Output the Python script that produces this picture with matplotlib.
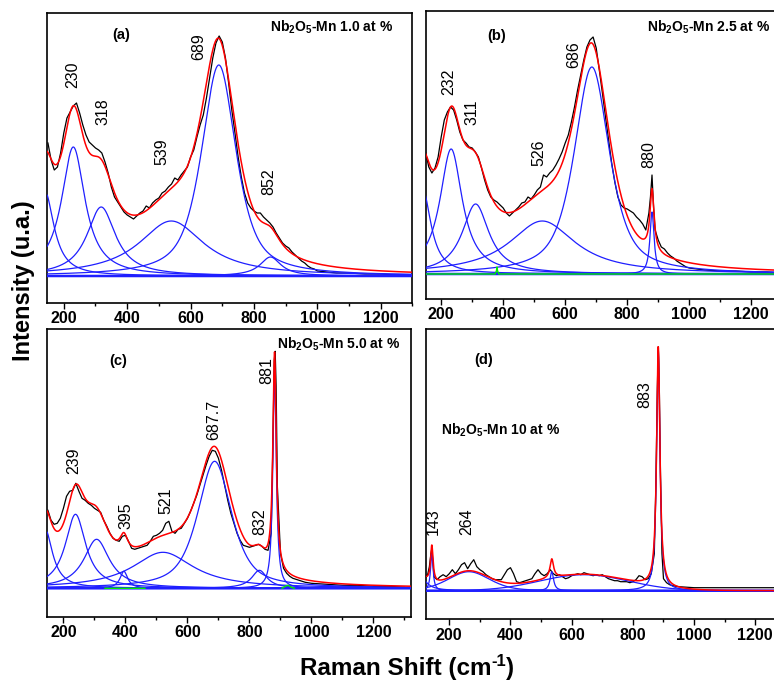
import numpy as np
import matplotlib
matplotlib.use("Agg")
import matplotlib.pyplot as plt
from matplotlib.ticker import MultipleLocator, NullLocator

plt.rcParams["mathtext.fontset"] = "custom"
plt.rcParams["mathtext.rm"] = "Liberation Sans:bold"
plt.rcParams["mathtext.it"] = "Liberation Sans:bold"
plt.rcParams["mathtext.bf"] = "Liberation Sans:bold"

# ---------------- (a) Nb2O5-Mn 1.0 at % ----------------
a_shift = [150, 160, 170, 180, 190, 200, 210, 220, 230, 240, 250, 260, 270, 280, 290,
           300, 310, 320, 330, 340, 350, 360, 370, 380, 390, 400, 410, 420, 430, 440,
           450, 460, 470, 480, 490, 500, 510, 520, 530, 540, 550, 560, 570, 580, 590,
           600, 610, 620, 630, 640, 650, 660, 670, 680, 690, 700, 710, 720, 730, 740,
           750, 760, 770, 780, 790, 800, 810, 820, 830, 840, 850, 860, 870, 880, 890,
           900, 910, 920, 930, 940, 950, 960, 970, 980, 990, 1000, 1030, 1060, 1100,
           1150, 1200, 1250, 1300]
a_counts = [133, 116, 106, 109, 123, 143, 158, 164, 170, 173, 163, 151, 141, 134, 131,
            128, 126, 123, 114, 103, 89, 79, 74, 69, 64, 61, 59, 57, 60, 63,
            65, 70, 68, 73, 76, 78, 83, 85, 89, 92, 98, 96, 101, 105, 109,
            119, 126, 139, 151, 161, 178, 198, 218, 233, 240, 234, 218, 193, 166, 143,
            119, 99, 83, 73, 68, 65, 63, 63, 59, 56, 53, 49, 43, 38, 33,
            30, 28, 24, 21, 18, 15, 13, 10, 8, 7, 5, 4, 3, 3,
            2, 2, 1, 1]
a_centers = [140, 230, 318, 539, 689, 852]
a_heights = [85, 129, 69, 55, 211, 19]
a_fwhm = [70, 90, 110, 250, 130, 80]
a_lorentz = [1.0, 1.0, 1.0, 1.0, 0.7, 1.0]
a_peak_labels = ["230", "318", "539", "689", "852"]
a_title = r"Nb$_2$O$_5$-Mn 1.0 at %"

# ---------------- (b) Nb2O5-Mn 2.5 at % ----------------
b_shift = [150, 160, 170, 180, 190, 200, 210, 220, 230, 240, 250, 260, 270, 280, 290,
           300, 310, 320, 330, 340, 350, 360, 370, 380, 390, 400, 410, 420, 430, 440,
           450, 460, 470, 480, 490, 500, 510, 520, 530, 540, 550, 560, 570, 580, 590,
           600, 610, 620, 630, 640, 650, 660, 670, 680, 690, 700, 710, 720, 730, 740,
           750, 760, 770, 780, 790, 800, 810, 820, 830, 840, 850, 860, 870, 875, 880,
           885, 890, 900, 910, 920, 930, 940, 950, 960, 970, 980, 990, 1000, 1050,
           1100, 1150, 1200, 1250, 1300]
b_counts = [121, 107, 101, 106, 117, 137, 154, 162, 167, 164, 154, 142, 134, 131, 127,
            126, 122, 117, 106, 94, 84, 77, 74, 72, 69, 66, 61, 58, 61, 64,
            67, 71, 72, 77, 75, 79, 84, 87, 99, 97, 101, 104, 109, 115, 122,
            131, 139, 152, 167, 184, 199, 214, 227, 234, 237, 226, 204, 181, 157, 134,
            111, 92, 77, 69, 66, 65, 63, 61, 57, 54, 50, 44, 61, 77, 99,
            67, 44, 34, 27, 25, 21, 18, 16, 13, 11, 9, 7, 6, 4,
            3, 3, 2, 2, 1]
b_centers = [140, 232, 311, 526, 686, 880]
b_heights = [85, 125, 70, 53, 207, 62]
b_fwhm = [65, 88, 105, 260, 135, 16]
b_lorentz = [1.0, 1.0, 1.0, 1.0, 0.7, 1.0]
b_peak_labels = ["232", "311", "526", "686", "880"]
b_title = r"Nb$_2$O$_5$-Mn 2.5 at %"
b_green_shift = [150, 374, 378, 380, 382, 386, 1300]
b_green_counts = [0, 0, 3, 7, 3, 0, 0]

# ---------------- (c) Nb2O5-Mn 5.0 at % ----------------
c_shift = [150, 160, 170, 180, 190, 200, 210, 220, 230, 240, 250, 260, 270, 280, 290,
           300, 310, 320, 330, 340, 350, 360, 370, 380, 390, 400, 410, 420, 430, 440,
           450, 460, 470, 480, 490, 500, 510, 520, 530, 540, 550, 560, 570, 580, 590,
           600, 610, 620, 630, 640, 650, 660, 670, 680, 690, 700, 710, 720, 730, 740,
           750, 760, 770, 780, 790, 800, 810, 820, 830, 840, 850, 860, 870, 875, 880,
           883, 886, 890, 900, 910, 920, 930, 940, 960, 980, 1000, 1050, 1100, 1150,
           1200, 1250, 1300]
c_counts = [78, 68, 64, 65, 70, 80, 92, 97, 98, 105, 97, 90, 88, 85, 83,
            80, 78, 76, 68, 62, 55, 50, 48, 47, 52, 53, 47, 40, 39, 40,
            41, 42, 43, 47, 52, 53, 55, 58, 65, 67, 57, 55, 59, 60, 65,
            70, 77, 85, 93, 103, 113, 123, 132, 138, 137, 130, 118, 103, 88, 75,
            65, 55, 48, 43, 42, 41, 42, 43, 44, 42, 39, 38, 55, 135, 228,
            237, 202, 102, 35, 20, 15, 12, 10, 8, 6, 5, 4, 3, 3,
            2, 2, 1]
c_centers = [140, 239, 307, 395, 521, 687.7, 832, 881]
c_heights = [60, 74, 49, 17, 36, 127, 18, 218]
c_fwhm = [60, 80, 100, 30, 240, 130, 60, 13]
c_lorentz = [1.0, 1.0, 1.0, 1.0, 1.0, 0.7, 1.0, 1.0]
c_peak_labels = ["239", "395", "521", "687.7", "832", "881"]
c_title = r"Nb$_2$O$_5$-Mn 5.0 at %"
c_green_shift = [334, 463, np.nan, 905, 915, 925, 935, 945]
c_green_counts = [0, 0, np.nan, 0, 2, 3, 1, 0]

# ---------------- (d) Nb2O5-Mn 10 at % ----------------
d_shift = [125, 130, 135, 140, 143, 146, 150, 160, 170, 180, 190, 200, 210, 220, 230,
           240, 250, 260, 270, 280, 290, 300, 310, 320, 330, 340, 350, 360, 370, 380,
           390, 400, 410, 420, 430, 440, 450, 460, 470, 480, 490, 500, 510, 520, 530,
           540, 550, 560, 570, 580, 590, 600, 610, 620, 630, 640, 650, 660, 670, 680,
           690, 700, 710, 720, 730, 740, 750, 760, 770, 780, 790, 800, 810, 820, 830,
           840, 850, 860, 870, 875, 880, 883, 886, 890, 895, 900, 910, 920, 930, 950,
           1000, 1100, 1200, 1300]
d_counts = [14, 17, 24, 37, 42, 31, 14, 11, 14, 16, 14, 17, 21, 17, 21,
            26, 28, 22, 27, 31, 24, 21, 19, 16, 14, 12, 11, 11, 11, 16,
            21, 23, 17, 9, 8, 9, 10, 11, 12, 17, 21, 17, 15, 17, 21,
            17, 15, 16, 14, 12, 13, 15, 16, 17, 16, 18, 17, 16, 15, 16,
            15, 16, 14, 12, 11, 10, 10, 9, 9, 9, 8, 9, 11, 15, 14,
            11, 12, 17, 37, 104, 204, 244, 211, 121, 37, 12, 8, 6, 5, 4,
            3, 3, 3, 3]
d_centers = [105, 143, 264, 535, 640, 883]
d_heights = [14, 37, 19, 19, 16, 240]
d_fwhm = [50, 10, 160, 14, 340, 13]
d_lorentz = [1.0, 1.0, 0.3, 1.0, 0.0, 1.0]
d_peak_labels = ["143", "264", "883"]
d_title = r"Nb$_2$O$_5$-Mn 10 at %"

tick_values = [200, 400, 600, 800, 1000, 1200]


def pseudo_voigt(x, center, height, fwhm, eta):
    u = (x - center) / (fwhm / 2.0)
    return height * (eta / (1.0 + u ** 2) + (1.0 - eta) * np.exp(-np.log(2.0) * u ** 2))


# ---------------- layout (figure pixels) ----------------
W, H = 774, 683


def axes_rect(left, top, right, bottom):
    return [left / W, 1 - bottom / H, (right - left) / W, (bottom - top) / H]


fig = plt.figure(figsize=(W / 100, H / 100), dpi=100)
fig.patch.set_facecolor("white")

panels = [
    dict(rect=axes_rect(47.3, 13, 412.5, 303), xlim=(148, 1300), ylim=(-27, 263),
         x=a_shift, y=a_counts, c=a_centers, h=a_heights, w=a_fwhm, e=a_lorentz,
         labels=a_peak_labels,
         label_xy=[(229, 201), (325, 164), (509, 124), (627, 229), (845, 94)],
         green=None),
    dict(rect=axes_rect(425.7, 11, 782.2, 299), xlim=(150, 1300), ylim=(-25, 263),
         x=b_shift, y=b_counts, c=b_centers, h=b_heights, w=b_fwhm, e=b_lorentz,
         labels=b_peak_labels,
         label_xy=[(223, 192), (300, 162), (514, 121), (626, 219), (868, 119)],
         green=(b_green_shift, b_green_counts)),
    dict(rect=axes_rect(47.3, 329, 411, 616.7), xlim=(148, 1321), ylim=(-28.4, 259.3),
         x=c_shift, y=c_counts, c=c_centers, h=c_heights, w=c_fwhm, e=c_lorentz,
         labels=c_peak_labels,
         label_xy=[(232, 128), (402, 73), (531, 88), (684, 168), (834, 67), (856, 218)],
         green=(c_green_shift, c_green_counts)),
    dict(rect=axes_rect(425.7, 329.3, 785.9, 619.3), xlim=(123, 1300), ylim=(-28.6, 261.4),
         x=d_shift, y=d_counts, c=d_centers, h=d_heights, w=d_fwhm, e=d_lorentz,
         labels=d_peak_labels,
         label_xy=[(148, 69), (257, 69), (840, 196)],
         green=None),
]

narrow = ["Liberation Sans Narrow", "Liberation Sans", "DejaVu Sans"]
BLUE = "#1f1fff"

for p in panels:
    ax = fig.add_axes(p["rect"])
    lo, hi = p["xlim"]
    grid = np.linspace(lo, hi, 2400)
    comps = [pseudo_voigt(grid, c, h, w, e)
             for c, h, w, e in zip(p["c"], p["h"], p["w"], p["e"])]
    fit = np.sum(comps, axis=0)

    # measured spectrum, fitted components, baseline, then the cumulative fit
    ax.plot(p["x"], p["y"], color="black", lw=0.9, zorder=2)
    for comp in comps:
        ax.plot(grid, comp, color=BLUE, lw=0.9, zorder=3)
    ax.plot(grid, np.zeros_like(grid), color=BLUE, lw=1.8, zorder=3)
    ax.plot(grid, fit, color="#ff0000", lw=1.1, zorder=4)
    if p["green"] is not None:
        ax.plot(p["green"][0], p["green"][1], color="#00ee00", lw=1.0, zorder=5)

    for txt, (lx, ly) in zip(p["labels"], p["label_xy"]):
        ax.text(lx, ly, txt, rotation=90, ha="center", va="center",
                fontsize=11.5, family=narrow, color="black", zorder=6)

    ax.set_xlim(lo, hi)
    ax.set_ylim(*p["ylim"])
    ax.set_xticks(tick_values)
    ax.set_xticklabels([str(t) for t in tick_values])
    ax.xaxis.set_minor_locator(MultipleLocator(100))
    ax.yaxis.set_major_locator(NullLocator())
    ax.tick_params(axis="x", which="major", direction="out", length=4, width=1.0,
                   pad=2, labelsize=11.5)
    ax.tick_params(axis="x", which="minor", direction="out", length=2.5, width=1.0)
    for lab in ax.get_xticklabels():
        lab.set_fontfamily(narrow)
        lab.set_fontweight("bold")
    for s in ax.spines.values():
        s.set_linewidth(1.2)
        s.set_color("black")


def ftxt(x, y, s, **kw):
    return fig.text(x / W, 1 - y / H, s, **kw)


bold = dict(family=["Liberation Sans", "DejaVu Sans"], fontweight="bold", color="black")
ftxt(120.7, 35, "(a)", ha="center", va="center", fontsize=10.5, **bold)
ftxt(496.7, 36, "(b)", ha="center", va="center", fontsize=10.5, **bold)
ftxt(117.7, 360.7, "(c)", ha="center", va="center", fontsize=10.5, **bold)
ftxt(483.3, 360, "(d)", ha="center", va="center", fontsize=10.5, **bold)

ftxt(270, 32, a_title, ha="left", va="baseline", fontsize=10, **bold)
ftxt(646.7, 32, b_title, ha="left", va="baseline", fontsize=10, **bold)
ftxt(276.7, 348.3, c_title, ha="left", va="baseline", fontsize=10, **bold)
ftxt(441, 435, d_title, ha="left", va="baseline", fontsize=10, **bold)

# x-axis title built from pieces so the exponent keeps a plain hyphen
renderer = fig.canvas.get_renderer()
pieces = [("Raman Shift (cm", 17.5, 0.0), ("-1", 12.0, 9.0), (")", 17.5, 0.0)]
texts = [ftxt(0, 675, s, ha="left", va="baseline", fontsize=fs, **bold)
         for s, fs, _ in pieces]
widths = [t.get_window_extent(renderer).width for t in texts]
x_cursor = 407 - sum(widths) / 2
for t, w, (_, _, rise) in zip(texts, widths, pieces):
    t.set_position((x_cursor / W, 1 - (675 - rise) / H))
    x_cursor += w

ftxt(24, 281, "Intensity (u.a.)", ha="center", va="center", rotation=90, fontsize=17, **bold)

fig.savefig("out.png", dpi=100, facecolor="white")
